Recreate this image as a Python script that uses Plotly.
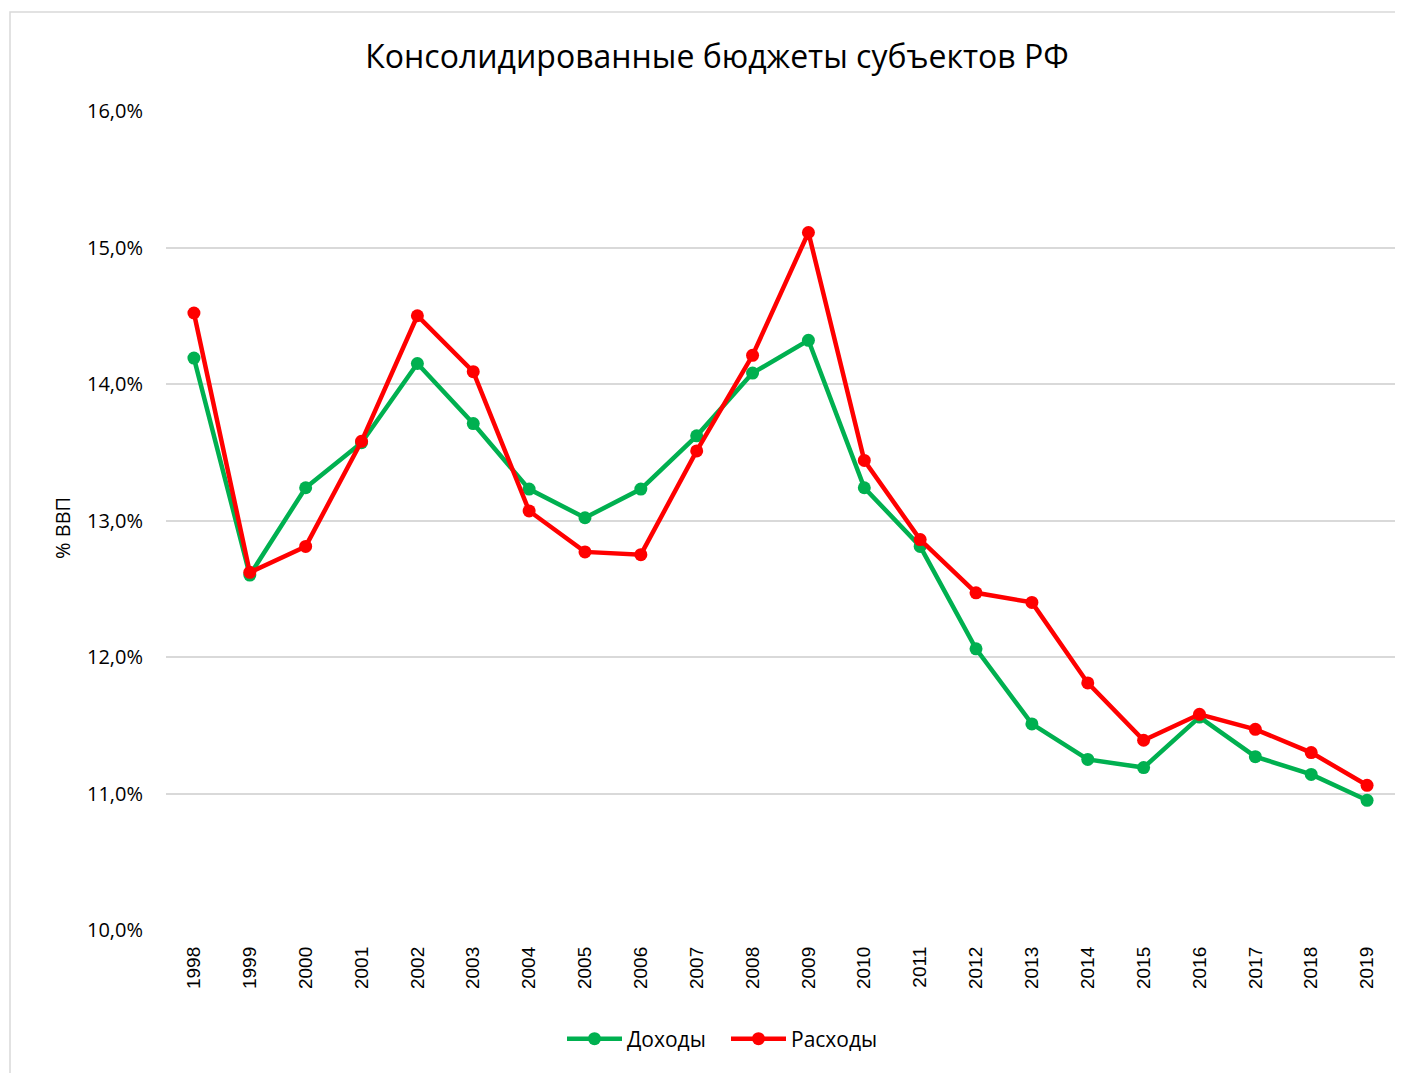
import plotly.graph_objects as go

years = [str(y) for y in range(1998, 2020)]
dohody = [14.19, 12.60, 13.24, 13.57, 14.15, 13.71, 13.23, 13.02, 13.23, 13.62, 14.08,
          14.32, 13.24, 12.81, 12.06, 11.51, 11.25, 11.19, 11.56, 11.27, 11.14, 10.95]
rashody = [14.52, 12.62, 12.81, 13.58, 14.50, 14.09, 13.07, 12.77, 12.75, 13.51, 14.21,
           15.11, 13.44, 12.86, 12.47, 12.40, 11.81, 11.39, 11.58, 11.47, 11.30, 11.06]
ytick_vals = [10, 11, 12, 13, 14, 15, 16]
ytick_text = ["10,0%", "11,0%", "12,0%", "13,0%", "14,0%", "15,0%", "16,0%"]

OFF = 8  # page body margin
W, H = 1403 - OFF, 1073 - OFF
L, T = 166 - OFF, 111 - OFF
R = 8
B = H - (930 - OFF)
pw, ph = W - L - R, H - T - B


def px_x(x):
    return (x - OFF - L) / pw


def px_y(y):
    return (930 - y) / ph


fig = go.Figure()
fig.add_trace(go.Scatter(x=years, y=dohody, name="Доходы", mode="lines+markers",
                         line=dict(color="#00B050", width=4.5),
                         marker=dict(size=13, color="#00B050")))
fig.add_trace(go.Scatter(x=years, y=rashody, name="Расходы", mode="lines+markers",
                         line=dict(color="#FF0000", width=4.5),
                         marker=dict(size=13, color="#FF0000")))

fig.update_layout(
    width=W, height=H,
    margin=dict(l=L, r=R, t=T, b=B),
    paper_bgcolor="white", plot_bgcolor="white",
    font=dict(family="Open Sans, sans-serif", color="black"),
    title=dict(text="Консолидированные бюджеты субъектов РФ", xref="container",
               x=(717 - OFF) / W, xanchor="center", yref="container",
               y=1 - (57 - OFF) / H, yanchor="middle",
               font=dict(size=32, family="Open Sans, sans-serif", color="black")),
    xaxis=dict(type="category", range=[-0.5, 21.5], tickangle=-90, showgrid=False,
               showline=False, ticks="", ticklabelstandoff=12,
               tickfont=dict(size=19, family="Liberation Sans, Arial, sans-serif", color="black")),
    yaxis=dict(range=[10, 16], tickvals=ytick_vals, ticktext=ytick_text, showgrid=True,
               gridcolor="#D9D9D9", gridwidth=1.5, zeroline=False, showline=False,
               ticklabelstandoff=22,
               tickfont=dict(size=20, family="Open Sans, sans-serif", color="black")),
    legend=dict(orientation="h", x=px_x(726), xanchor="center",
                y=px_y(1039), yanchor="middle",
                font=dict(size=21, family="Open Sans, sans-serif", color="black"),
                itemwidth=55, entrywidth=94, entrywidthmode="pixels", tracegroupgap=0),
    showlegend=True,
)

fig.add_annotation(text="% ВВП", xref="paper", yref="paper", x=px_x(62), y=px_y(528),
                   textangle=-90, showarrow=False, xanchor="center", yanchor="middle",
                   font=dict(size=20, family="Open Sans, sans-serif", color="black"))

# chart border (Excel-style chart area outline)
fig.add_shape(type="rect", xref="paper", yref="paper",
              x0=px_x(10), x1=px_x(1430),
              y0=px_y(1100), y1=px_y(12),
              line=dict(color="#D9D9D9", width=1.5), fillcolor="rgba(0,0,0,0)", layer="below")

fig.write_html("out.html")
